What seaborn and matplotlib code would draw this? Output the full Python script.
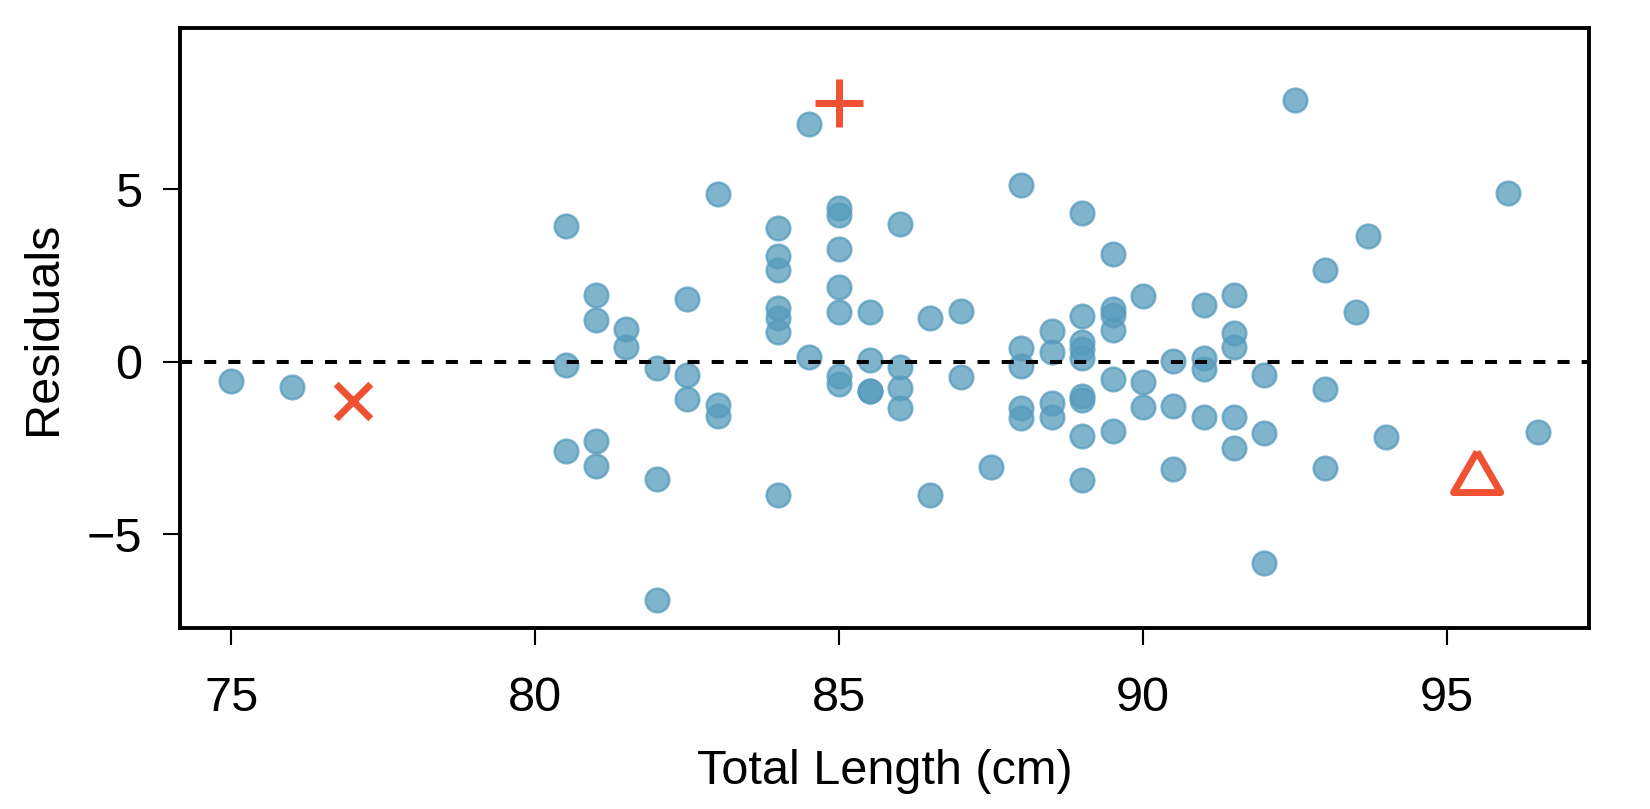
import matplotlib
matplotlib.use("Agg")
import matplotlib.pyplot as plt
import seaborn as sns
import pandas as pd
import numpy as np

# ---- data ----
total_length = [
    75, 76,
    80.5, 80.5, 80.5,
    81, 81, 81, 81,
    81.5, 81.5,
    82, 82, 82,
    82.5, 82.5, 82.5,
    83, 83, 83,
    84, 84, 84, 84, 84, 84, 84,
    84.5, 84.5,
    85, 85, 85, 85, 85, 85, 85,
    85.5, 85.5, 85.5, 85.5,
    86, 86, 86, 86,
    86.5, 86.5,
    87, 87,
    87.5,
    88, 88, 88, 88, 88,
    88.5, 88.5, 88.5, 88.5,
    89, 89, 89, 89, 89, 89, 89, 89, 89,
    89.5, 89.5, 89.5, 89.5, 89.5, 89.5,
    90, 90, 90,
    90.5, 90.5, 90.5,
    91, 91, 91, 91,
    91.5, 91.5, 91.5, 91.5, 91.5,
    92, 92, 92,
    92.5,
    93, 93, 93,
    93.5, 93.7, 94,
    96, 96.5,
]
residuals = [
    -0.55, -0.74,
    3.94, -0.10, -2.60,
    1.92, 1.21, -2.30, -3.01,
    0.94, 0.42,
    -0.17, -3.39, -6.91,
    1.83, -0.38, -1.09,
    4.86, -1.26, -1.58,
    3.86, 3.06, 2.66, 1.57, 1.28, 0.86, -3.87,
    6.88, 0.13,
    4.46, 4.25, 3.26, 2.16, 1.45, -0.42, -0.64,
    1.45, 0.05, -0.84, -0.86,
    3.99, -0.15, -0.75, -1.35,
    1.28, -3.85,
    1.48, -0.44,
    -3.04,
    5.12, 0.39, -0.13, -1.33, -1.62,
    0.89, 0.28, -1.20, -1.61,
    4.32, 1.32, 0.58, 0.36, 0.12, -1.00, -1.12, -2.14, -3.44,
    3.11, 1.52, 1.36, 0.91, -0.51, -2.01,
    1.90, -0.60, -1.32,
    0.01, -1.29, -3.10,
    1.63, 0.11, -0.21, -1.59,
    1.92, 0.82, 0.42, -1.59, -2.50,
    -0.38, -2.08, -5.82,
    7.57,
    2.65, -0.78, -3.08,
    1.44, 3.64, -2.17,
    4.89, -2.04,
]

# highlighted observations
cross_x, cross_y = [77.0], [-1.15]
plus_x, plus_y = [85.0], [7.49]
tri_x, tri_y = [95.5], [-3.2]

x_ticks = [75, 80, 85, 90, 95]
y_ticks = [-5, 0, 5]
x_label = "Total Length (cm)"
y_label = "Residuals"

BLUE = "#569BBD"
RED = "#F05133"

# ---- plotting ----
sns.set_style("white")
plt.rcParams["font.family"] = ["Liberation Sans", "DejaVu Sans"]

fig = plt.figure(figsize=(16.5, 8.09), dpi=100)
ax = fig.add_axes([0.109, 0.224, 0.854, 0.741])

df = pd.DataFrame({"length": total_length, "resid": residuals})
sns.scatterplot(data=df, x="length", y="resid", ax=ax, color=BLUE,
                alpha=0.75, s=290, edgecolor=BLUE, linewidth=1.8, zorder=3)

ax.axhline(0, color="black", lw=2.9, ls=(0, (3.0, 3.0)), zorder=4)

sns.scatterplot(x=cross_x, y=cross_y, ax=ax, marker="x", color=RED,
                s=620, linewidth=5.0, zorder=5)
sns.scatterplot(x=plus_x, y=plus_y, ax=ax, marker="+", color=RED,
                s=1150, linewidth=5.0, zorder=5)
tri = [(0, 0.866), (-1, -0.866), (1, -0.866), (0, 0.866)]
sns.scatterplot(x=tri_x, y=tri_y, ax=ax, marker=tri, facecolor="none",
                edgecolor=RED, s=1150, linewidth=5.0, zorder=5)

ax.set_xlim(74.15, 97.34)
ax.set_ylim(-7.71, 9.66)
ax.set_xticks(x_ticks)
ax.set_yticks(y_ticks)
ax.set_yticklabels(["\u22125", "0", "5"])
ax.tick_params(axis="both", which="major", direction="out", length=12,
               width=1.5, labelsize=35, color="black", labelcolor="black",
               bottom=True, left=True, top=False, right=False)
ax.tick_params(axis="x", pad=23)
ax.tick_params(axis="y", pad=15)
for sp in ax.spines.values():
    sp.set_visible(True)
    sp.set_color("black")
    sp.set_linewidth(2.8)

ax.set_xlabel(x_label, fontsize=35, labelpad=20, color="black")
ax.set_ylabel(y_label, fontsize=35, labelpad=15, color="black")

fig.savefig("out.png", dpi=100, facecolor="white")
